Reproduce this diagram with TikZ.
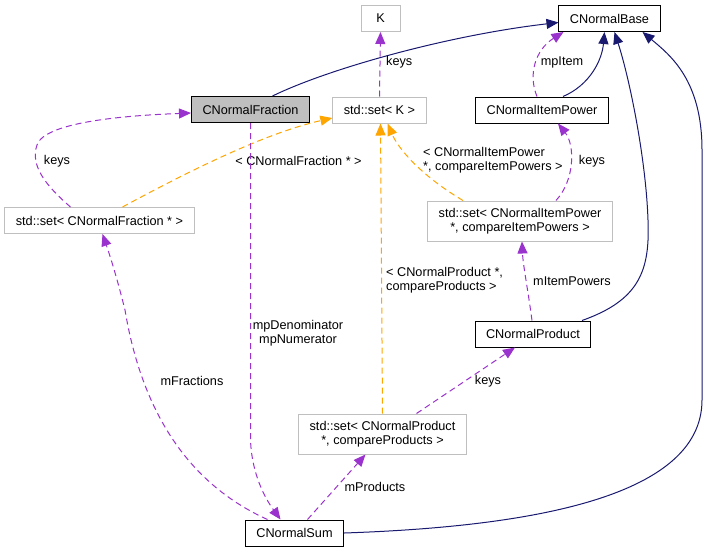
\documentclass[tikz,border=0pt]{standalone}
\usepackage{fontspec}
\setmainfont{Liberation Sans}
\usepackage{xcolor}
\usetikzlibrary{arrows.meta, positioning, calc}
\definecolor{dxpurple}{RGB}{154,50,205}
\definecolor{dxorange}{RGB}{255,165,0}
\definecolor{dxnavy}{RGB}{25,25,112}
\definecolor{dxgrey}{RGB}{191,191,191}

\begin{document}
\begin{tikzpicture}[x=1pt, y=-1pt,
  font=\fontsize{12.7}{14.5}\selectfont,
  cls/.style={draw=black, line width=1pt, inner xsep=11pt, inner ysep=0pt,
    minimum height=26pt, align=center, fill=white},
  ext/.style={cls, draw=dxgrey},
  inherit/.style={dxnavy, line width=1pt, -{Triangle[length=12pt,width=10pt]}},
  usage/.style={dxpurple, line width=1pt, dash pattern=on 6pt off 4pt,
    -{Triangle[length=12pt,width=10pt]}},
  templ/.style={dxorange, line width=1pt, dash pattern=on 6pt off 4pt,
    -{Triangle[length=12pt,width=10pt]}},
  lbl/.style={inner sep=0pt, align=center}
]
\useasboundingbox (0,0) rectangle (707,552);

% classes
\node[ext, minimum width=39pt] (K) at (380.5,18.5) {K};
\node[cls] (base) at (609.5,18.5) {CNormalBase};
\node[cls, fill=dxgrey] (frac) at (250.5,109.5) {CNormalFraction};
\node[ext] (setK) at (379.5,110) {std::set< K >};
\node[cls] (itempow) at (542,110) {CNormalItemPower};
\node[ext] (setfrac) at (99.5,220.5) {std::set< CNormalFraction * >};
\node[ext, minimum height=40pt] (setip) at (520,221) {std::set< CNormalItemPower\\*, compareItemPowers >};
\node[cls] (prod) at (533,334) {CNormalProduct};
\node[ext, minimum height=40pt] (setprod) at (382.5,434) {std::set< CNormalProduct\\*, compareProducts >};
\node[cls] (sum) at (294.5,533) {CNormalSum};

% inheritance
\draw[inherit] ([xshift=22pt]frac.north) .. controls (330,68) and (450,35) .. ([yshift=-4pt]base.west);
\draw[inherit] ([xshift=21pt]itempow.north) .. controls (590,85) and (602,60) .. ([xshift=-5pt]base.south);
\draw[inherit] ([xshift=49pt]prod.north) .. controls (640,300) and (650,270) .. (648,220)
  .. controls (646,160) and (630,80) .. ([xshift=5pt]base.south);
\draw[inherit] (sum.east) .. controls (520,527) and (702,500) .. (702,400) -- (702,150)
  .. controls (702,80) and (670,55) .. ([xshift=33pt]base.south);

% templates
\draw[templ] ([xshift=23pt]setfrac.north) .. controls (200,165) and (270,132) .. ([yshift=-8pt]setK.west);
\draw[templ] (setprod.north) -- ([xshift=1pt]setK.south);
\draw[templ] ([xshift=-57pt]setip.north) .. controls (420,175) and (398,148) .. ([xshift=8pt]setK.south);
\node[lbl] (tfrac) at (298.5,161) {< CNormalFraction * >};
\node[lbl, anchor=west, align=left] (tprod) at (386,280) {< CNormalProduct *,\\compareProducts >};
\node[lbl, anchor=west, align=left] (tip) at (423,160) {< CNormalItemPower\\*, compareItemPowers >};

% usage
\draw[usage] (setK.north) -- (K.south);
\node[lbl, anchor=west] (ukeys) at (386,62) {keys};
\draw[usage] ([xshift=-29pt]setfrac.north) .. controls (45,185) and (30,165) .. (37,145)
  .. controls (45,120) and (140,115) .. ([yshift=-3.5pt]frac.west);
\node[lbl] (ufkeys) at (57,161) {keys};
\draw[usage] ([xshift=-5pt]itempow.north) .. controls (528,75) and (535,50) .. ([xshift=-46pt]base.south);
\node[lbl] (uitem) at (562,62) {mpItem};
\draw[usage] ([xshift=36pt]setip.north) .. controls (575,180) and (575,145) .. ([xshift=16pt]itempow.south);
\node[lbl] (uikeys) at (592,161) {keys};
\draw[usage] ([xshift=-1pt]prod.north) .. controls (528,290) and (523,265) .. ([xshift=2pt]setip.south);
\node[lbl] (uipow) at (572,281) {mItemPowers};
\draw[usage] ([xshift=34pt]setprod.north) -- ([xshift=-18pt]prod.south);
\node[lbl] (upkeys) at (488,381) {keys};
\draw[usage] ([xshift=13pt]sum.north) -- ([xshift=-17pt]setprod.south);
\node[lbl] (uprods) at (375,487) {mProducts};
\draw[usage] ([xshift=-27pt]sum.north) .. controls (180,480) and (140,400) .. (125,310)
  .. controls (115,270) and (108,250) .. ([xshift=3pt]setfrac.south);
\node[lbl] (ufracs) at (192,381) {mFractions};
\draw[usage] (frac.south) -- (250.5,440) .. controls (252,480) and (270,505) .. ([xshift=-14pt]sum.north);
\node[lbl] (unum) at (298,333) {mpDenominator\\mpNumerator};
\end{tikzpicture}
\end{document}
